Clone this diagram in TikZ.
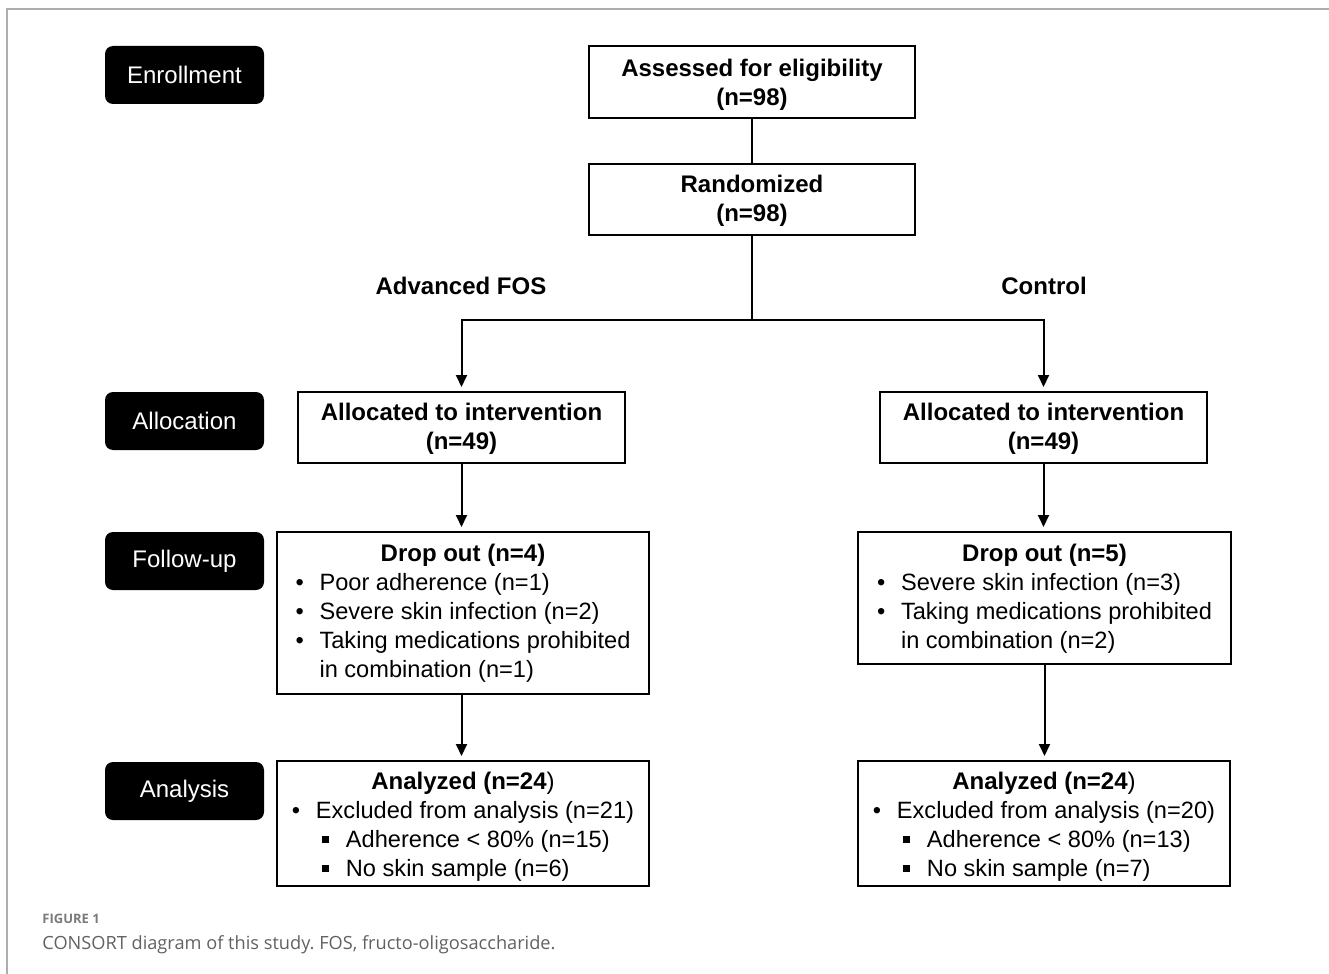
\documentclass[tikz,border=0pt]{standalone}
\usepackage{fontspec}
\setmainfont{Liberation Sans}
\newfontfamily\capfont{Open Sans}
\usetikzlibrary{arrows.meta}
\frenchspacing
\newcommand\bul{\makebox[12pt][l]{\textbullet}}
\newcommand\sqbul{\hspace{15pt}\makebox[12pt][l]{\raisebox{0.2em}{\rule{0.3em}{0.3em}}}}
\newcommand\cont{\hspace{12pt}}
\newcommand\lowr[2]{\raisebox{-#1}[\height][\depth]{#2}}
\begin{document}
\begin{tikzpicture}[x=0.5pt,y=-0.5pt,
  stage/.style={fill=black, rounded corners=4pt, text=white, minimum width=79.5pt, minimum height=29pt, inner sep=0pt, font=\fontsize{12}{14.5}\selectfont},
  box/.style={draw=black, line width=1pt, inner sep=0pt, align=center, font=\fontsize{11.8}{14.5}\selectfont},
  bbox/.style={box, font=\bfseries\fontsize{12}{14.5}\selectfont},
  grp/.style={font=\bfseries\fontsize{12}{14.5}\selectfont},
  ln/.style={line width=1pt},
  arr/.style={line width=1pt, -{Triangle[length=6pt,width=5.5pt]}, shorten >=2pt},
  frame/.style={draw=black!32, line width=1pt},
]
\useasboundingbox (0,0) rectangle (1329,974);
\draw[frame] (7,974) -- (7,9) -- (1329,9);

% stage labels
\node[stage] (enr) at (184.5,75) {Enrollment};
\node[stage] (all) at (184.5,421) {Allocation};
\node[stage] (fol) at (184.5,561) {Follow-up};
\node[stage] (ana) at (184.5,791) {Analysis};

% top boxes
\node[bbox, minimum width=163pt, minimum height=36pt] (assess) at (752,82) {\lowr{1.5pt}{\begin{tabular}{@{}c@{}}Assessed for eligibility\\(n=98)\end{tabular}}};
\node[bbox, minimum width=163pt, minimum height=35.5pt] (rand) at (752,199.5) {\lowr{1pt}{\begin{tabular}{@{}c@{}}Randomized\\(n=98)\end{tabular}}};

\node[grp] (gfos) at (461,286) {Advanced FOS};
\node[grp] (gctl) at (1044,286) {Control};

% allocation
\node[bbox, minimum width=163.5pt, minimum height=35.5pt] (allocL) at (461.5,427.5) {\lowr{1pt}{\begin{tabular}{@{}c@{}}Allocated to intervention\\(n=49)\end{tabular}}};
\node[bbox, minimum width=163.5pt, minimum height=35.5pt] (allocR) at (1043.5,427.5) {\lowr{1pt}{\begin{tabular}{@{}c@{}}Allocated to intervention\\(n=49)\end{tabular}}};

% drop out
\node[box, minimum width=186pt, minimum height=81pt] (dropL) at (463,613) {\lowr{0.5pt}{\begin{tabular}{@{}l@{}}
\multicolumn{1}{@{}c@{}}{\fontsize{12}{14.5}\selectfont\bfseries Drop out (n=4)}\\
\bul Poor adherence (n=1)\\
\bul Severe skin infection (n=2)\\
\bul Taking medications prohibited\\
\cont in combination (n=1)
\end{tabular}}};
\node[box, minimum width=186.5pt, minimum height=66pt] (dropR) at (1044.5,598) {\lowr{0.5pt}{\begin{tabular}{@{}l@{}}
\multicolumn{1}{@{}c@{}}{\fontsize{12}{14.5}\selectfont\bfseries Drop out (n=5)}\\
\bul Severe skin infection (n=3)\\
\bul Taking medications prohibited\\
\cont in combination (n=2)
\end{tabular}}};

% analyzed
\node[box, minimum width=186pt, minimum height=62.5pt] (anaL) at (463,823.5) {\lowr{2pt}{\begin{tabular}{@{}l@{}}
\multicolumn{1}{@{}c@{}}{\fontsize{12}{14.5}\selectfont\textbf{Analyzed (n=24})}\\
\bul Excluded from analysis (n=21)\\
\sqbul Adherence < 80\% (n=15)\\
\sqbul No skin sample (n=6)
\end{tabular}}};
\node[box, minimum width=186pt, minimum height=62.5pt] (anaR) at (1044,823.5) {\lowr{2pt}{\begin{tabular}{@{}l@{}}
\multicolumn{1}{@{}c@{}}{\fontsize{12}{14.5}\selectfont\textbf{Analyzed (n=24})}\\
\bul Excluded from analysis (n=20)\\
\sqbul Adherence < 80\% (n=13)\\
\sqbul No skin sample (n=7)
\end{tabular}}};

% connectors
\coordinate (split) at (752,320);
\draw[ln] (assess) -- (rand);
\draw[ln] (rand.south) -- (split);
\draw[arr] (split) -| (allocL.north);
\draw[arr] (split) -| (allocR.north);
\draw[arr] (allocL.south) -- (allocL.south |- dropL.north);
\draw[arr] (allocR.south) -- (allocR.south |- dropR.north);
\draw[arr] (allocL.south |- dropL.south) -- (allocL.south |- anaL.north);
\draw[arr] (dropR.south) -- (dropR.south |- anaR.north);

% caption
\node[anchor=base west, inner sep=0pt, text=black!52, font=\capfont\bfseries\fontsize{6.5}{8}\selectfont] (figno) at (42,923) {FIGURE 1};
\node[anchor=base west, inner sep=0pt, text=black!62, font=\capfont\fontsize{9.1}{11}\selectfont] (cap) at (42,949) {CONSORT diagram of this study. FOS, fructo-oligosaccharide.};
\end{tikzpicture}
\end{document}
